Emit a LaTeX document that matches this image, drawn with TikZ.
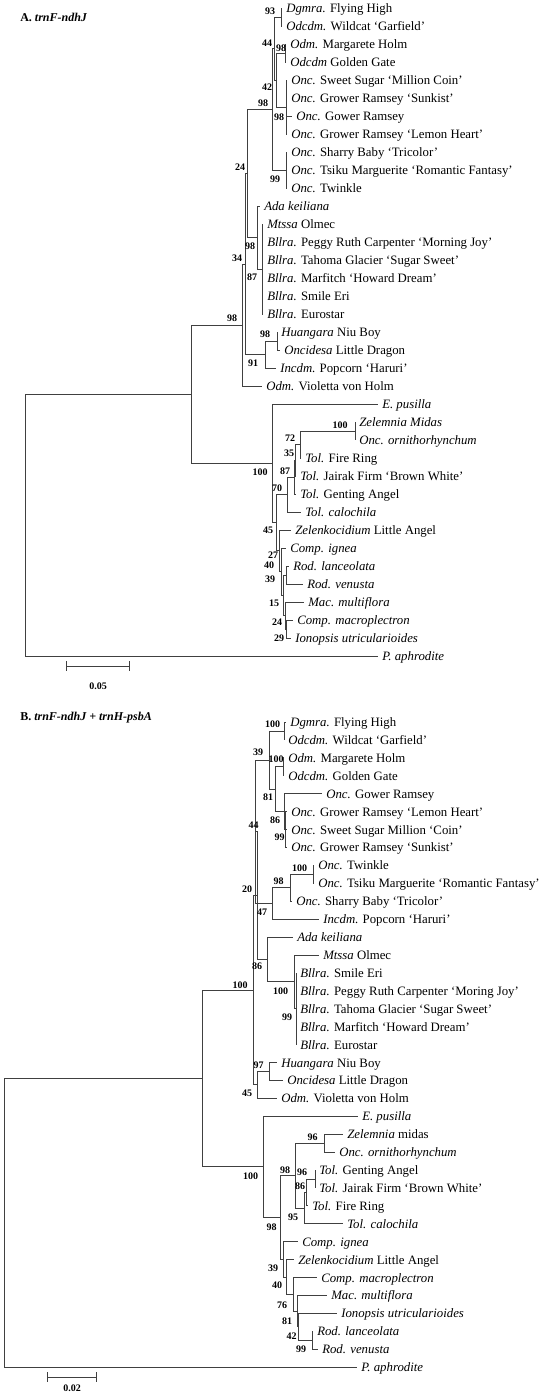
\documentclass[tikz,border=0pt]{standalone}
\usepackage{fontspec}
\setmainfont{Liberation Serif}
\usetikzlibrary{positioning,calc}

\tikzstyle{leafname} = [
    anchor=base west,
    inner sep=0pt,
    font=\fontsize{9.6}{11}\selectfont
]
\tikzstyle{treetitle} = [
    anchor=base west,
    inner sep=0pt,
    font=\bfseries\fontsize{9}{11}\selectfont
]

% one terminal taxon: tip coordinate and its name
\newcommand{\leaf}[4]{%
    \coordinate (#1) at (#2,#3);
    \node[leafname] (#1-name) at ($(#1)+(4,4.5)$) {#4};
}

\begin{document}
\begin{tikzpicture}[
        x=0.75pt, y=-0.75pt,
        branch/.style={draw=black!75, line width=0.7pt},
        boot/.style={inner sep=0pt, font=\bfseries\fontsize{7.5}{8}\selectfont},
        scalebar/.style={draw=black!75, line width=0.7pt, |-|}
    ]
    \fill[white] (0,0) rectangle (543,1394);

    % ---------------- A. trnF-ndhJ ----------------
    \node[treetitle] (titleA) at (20,22) {A. \textit{trnF-ndhJ}};

    \leaf{aL1}{282}{8}{\textit{Dgmra.} Flying High}
    \leaf{aL2}{282}{26}{\textit{Odcdm.} Wildcat ‘Garfield’}
    \leaf{aL3}{286}{44}{\textit{Odm.} Margarete Holm}
    \leaf{aL4}{286}{62}{\textit{Odcdm} Golden Gate}
    \leaf{aL5}{287}{80}{\textit{Onc.} Sweet Sugar ‘Million Coin’}
    \leaf{aL6}{287}{98}{\textit{Onc.} Grower Ramsey ‘Sunkist’}
    \leaf{aL7}{292}{116}{\textit{Onc.} Gower Ramsey}
    \leaf{aL8}{287}{134}{\textit{Onc.} Grower Ramsey ‘Lemon Heart’}
    \leaf{aL9}{287}{152}{\textit{Onc.} Sharry Baby ‘Tricolor’}
    \leaf{aL10}{287}{170}{\textit{Onc.} Tsiku Marguerite ‘Romantic Fantasy’}
    \leaf{aL11}{287}{188}{\textit{Onc.} Twinkle}
    \leaf{aL12}{260}{206}{\textit{Ada keiliana}}
    \leaf{aL13}{263}{224}{\textit{Mtssa} Olmec}
    \leaf{aL14}{263}{242}{\textit{Bllra.} Peggy Ruth Carpenter ‘Morning Joy’}
    \leaf{aL15}{263}{260}{\textit{Bllra.} Tahoma Glacier ‘Sugar Sweet’}
    \leaf{aL16}{263}{278}{\textit{Bllra.} Marfitch ‘Howard Dream’}
    \leaf{aL17}{263}{296}{\textit{Bllra.} Smile Eri}
    \leaf{aL18}{263}{314}{\textit{Bllra.} Eurostar}
    \leaf{aL19}{277}{332}{\textit{Huangara} Niu Boy}
    \leaf{aL20}{280}{350}{\textit{Oncidesa} Little Dragon}
    \leaf{aL21}{276}{368}{\textit{Incdm.} Popcorn ‘Haruri’}
    \leaf{aL22}{262}{386}{\textit{Odm.} Violetta von Holm}
    \leaf{aL23}{378}{404}{\textit{E. pusilla}}
    \leaf{aL24}{355}{422}{\textit{Zelemnia Midas}}
    \leaf{aL25}{355}{440}{\textit{Onc. ornithorhynchum}}
    \leaf{aL26}{301}{458}{\textit{Tol.} Fire Ring}
    \leaf{aL27}{296}{476}{\textit{Tol.} Jairak Firm ‘Brown White’}
    \leaf{aL28}{296}{494}{\textit{Tol.} Genting Angel}
    \leaf{aL29}{301}{512}{\textit{Tol. calochila}}
    \leaf{aL30}{291}{530}{\textit{Zelenkocidium} Little Angel}
    \leaf{aL31}{286}{548}{\textit{Comp. ignea}}
    \leaf{aL32}{289}{566}{\textit{Rod. lanceolata}}
    \leaf{aL33}{303}{584}{\textit{Rod. venusta}}
    \leaf{aL34}{304}{602}{\textit{Mac. multiflora}}
    \leaf{aL35}{293}{620}{\textit{Comp. macroplectron}}
    \leaf{aL36}{291}{638}{\textit{Ionopsis utricularioides}}
    \leaf{aL37}{378}{656}{\textit{P. aphrodite}}

    \coordinate (a93) at (281,17);
    \coordinate (a98a) at (285,53);
    \coordinate (a98b) at (286,107);
    \coordinate (a42) at (276,80);
    \coordinate (a44) at (274,48.5);
    \coordinate (a99) at (286,170);
    \coordinate (a98) at (272,109.3);
    \coordinate (a87) at (262,269);
    \coordinate (a98d) at (257,237.5);
    \coordinate (a24) at (247,173.4);
    \coordinate (a98h) at (277,341);
    \coordinate (a91) at (265,354.5);
    \coordinate (a34) at (245,264);
    \coordinate (aN2) at (242,325);
    \coordinate (a100z) at (355,431);
    \coordinate (a72) at (300,444.5);
    \coordinate (a35) at (295,460.3);
    \coordinate (a87t) at (294,477.1);
    \coordinate (a70) at (287,494.6);
    \coordinate (a29) at (286,629);
    \coordinate (a24t) at (285,615.5);
    \coordinate (a39) at (286,575);
    \coordinate (a15) at (283,595.3);
    \coordinate (a40) at (281,571.6);
    \coordinate (a27) at (279,550.8);
    \coordinate (a45) at (276,522.7);
    \coordinate (aOut) at (272,463.4);
    \coordinate (aN1) at (191,394.2);
    \coordinate (aR) at (25,394.2);

    \draw[branch] (aR) |- (aN1) (aR) |- (aL37);
    \draw[branch] (aN1) |- (aN2) (aN1) |- (aOut);
    \draw[branch] (aN2) |- (a34) (aN2) |- (aL22);
    \draw[branch] (a34) |- (a24) (a34) |- (a91);
    \draw[branch] (a24) |- (a98) (a24) |- (a98d);
    \draw[branch] (a98) |- (a44) (a98) |- (a99);
    \draw[branch] (a44) |- (a93) (a44) |- (a42);
    \draw[branch] (a93) |- (aL1) (a93) |- (aL2);
    \draw[branch] (a42) |- (a98a) (a42) |- (a98b);
    \draw[branch] (a98a) |- (aL3) (a98a) |- (aL4);
    \draw[branch] (a98b) |- (aL5) (a98b) |- (aL6) (a98b) |- (aL7) (a98b) |- (aL8);
    \draw[branch] (a99) |- (aL9) (a99) |- (aL10) (a99) |- (aL11);
    \draw[branch] (a98d) |- (aL12) (a98d) |- (a87);
    \draw[branch] (a87) |- (aL13) (a87) |- (aL14) (a87) |- (aL15)
                  (a87) |- (aL16) (a87) |- (aL17) (a87) |- (aL18);
    \draw[branch] (a91) |- (a98h) (a91) |- (aL21);
    \draw[branch] (a98h) |- (aL19) (a98h) |- (aL20);
    \draw[branch] (aOut) |- (aL23) (aOut) |- (a45);
    \draw[branch] (a45) |- (a70) (a45) |- (a27);
    \draw[branch] (a70) |- (a87t) (a70) |- (aL29);
    \draw[branch] (a87t) |- (a35) (a87t) |- (aL28);
    \draw[branch] (a35) |- (a72) (a35) |- (aL27);
    \draw[branch] (a72) |- (a100z) (a72) |- (aL26);
    \draw[branch] (a100z) |- (aL24) (a100z) |- (aL25);
    \draw[branch] (a27) |- (aL30) (a27) |- (a40);
    \draw[branch] (a40) |- (aL31) (a40) |- (a15);
    \draw[branch] (a15) |- (a39) (a15) |- (a24t);
    \draw[branch] (a39) |- (aL32) (a39) |- (aL33);
    \draw[branch] (a24t) |- (aL34) (a24t) |- (a29);
    \draw[branch] (a29) |- (aL35) (a29) |- (aL36);

    \node[boot] (ab93) at (270,11) {93};
    \node[boot] (ab44) at (267,43) {44};
    \node[boot] (ab98a) at (281,48) {98};
    \node[boot] (ab42) at (267,87) {42};
    \node[boot] (ab98) at (263,103) {98};
    \node[boot] (ab98b) at (279,117) {98};
    \node[boot] (ab24) at (240,167) {24};
    \node[boot] (ab99) at (275,179) {99};
    \node[boot] (ab98d) at (250,246) {98};
    \node[boot] (ab34) at (237,258) {34};
    \node[boot] (ab87) at (252,277) {87};
    \node[boot] (abN2) at (232,318) {98};
    \node[boot] (ab98h) at (265,334) {98};
    \node[boot] (ab91) at (253,363) {91};
    \node[boot] (ab100z) at (340,425) {100};
    \node[boot] (ab72) at (290,438) {72};
    \node[boot] (ab35) at (289,453) {35};
    \node[boot] (ab87t) at (285,471) {87};
    \node[boot] (abOut) at (260,472) {100};
    \node[boot] (ab70) at (277,488) {70};
    \node[boot] (ab45) at (268,530) {45};
    \node[boot] (ab27) at (273,555) {27};
    \node[boot] (ab40) at (269,565) {40};
    \node[boot] (ab39) at (270,579) {39};
    \node[boot] (ab15) at (274,603) {15};
    \node[boot] (ab24t) at (277,622) {24};
    \node[boot] (ab29) at (279,638) {29};

    \coordinate (asb1) at (66,666);
    \coordinate (asb2) at (130,666);
    \draw[scalebar] (asb1) -- (asb2);
    \node[boot] (asbl) at (98,686) {0.05};

    % ---------------- B. trnF-ndhJ + trnH-psbA ----------------
    \node[treetitle] (titleB) at (20,720.5) {B. \textit{trnF-ndhJ + trnH-psbA}};

    \leaf{bL1}{286}{722}{\textit{Dgmra.} Flying High}
    \leaf{bL2}{284}{739.9}{\textit{Odcdm.} Wildcat ‘Garfield’}
    \leaf{bL3}{284}{757.8}{\textit{Odm.} Margarete Holm}
    \leaf{bL4}{284}{775.8}{\textit{Odcdm.} Golden Gate}
    \leaf{bL5}{322}{793.7}{\textit{Onc.} Gower Ramsey}
    \leaf{bL6}{287}{811.6}{\textit{Onc.} Grower Ramsey ‘Lemon Heart’}
    \leaf{bL7}{287}{829.5}{\textit{Onc.} Sweet Sugar Million ‘Coin’}
    \leaf{bL8}{287}{847.4}{\textit{Onc.} Grower Ramsey ‘Sunkist’}
    \leaf{bL9}{314}{865.4}{\textit{Onc.} Twinkle}
    \leaf{bL10}{314}{883.3}{\textit{Onc.} Tsiku Marguerite ‘Romantic Fantasy’}
    \leaf{bL11}{292}{901.2}{\textit{Onc.} Sharry Baby ‘Tricolor’}
    \leaf{bL12}{319}{919.1}{\textit{Incdm.} Popcorn ‘Haruri’}
    \leaf{bL13}{293}{937}{\textit{Ada keiliana}}
    \leaf{bL14}{319}{955}{\textit{Mtssa} Olmec}
    \leaf{bL15}{296}{972.9}{\textit{Bllra.} Smile Eri}
    \leaf{bL16}{296}{990.8}{\textit{Bllra.} Peggy Ruth Carpenter ‘Moring Joy’}
    \leaf{bL17}{296}{1008.7}{\textit{Bllra.} Tahoma Glacier ‘Sugar Sweet’}
    \leaf{bL18}{296}{1026.6}{\textit{Bllra.} Marfitch ‘Howard Dream’}
    \leaf{bL19}{296}{1044.6}{\textit{Bllra.} Eurostar}
    \leaf{bL20}{277}{1062.5}{\textit{Huangara} Niu Boy}
    \leaf{bL21}{283}{1080.4}{\textit{Oncidesa} Little Dragon}
    \leaf{bL22}{277}{1098.3}{\textit{Odm.} Violetta von Holm}
    \leaf{bL23}{358}{1116.2}{\textit{E. pusilla}}
    \leaf{bL24}{343}{1134.2}{\textit{Zelemnia} midas}
    \leaf{bL25}{335}{1152.1}{\textit{Onc. ornithorhynchum}}
    \leaf{bL26}{315}{1170}{\textit{Tol.} Genting Angel}
    \leaf{bL27}{315}{1187.9}{\textit{Tol.} Jairak Firm ‘Brown White’}
    \leaf{bL28}{308}{1205.8}{\textit{Tol.} Fire Ring}
    \leaf{bL29}{343}{1223.8}{\textit{Tol. calochila}}
    \leaf{bL30}{298}{1241.7}{\textit{Comp. ignea}}
    \leaf{bL31}{294}{1259.6}{\textit{Zelenkocidium} Little Angel}
    \leaf{bL32}{317}{1277.5}{\textit{Comp. macroplectron}}
    \leaf{bL33}{327}{1295.4}{\textit{Mac. multiflora}}
    \leaf{bL34}{337}{1313.4}{\textit{Ionopsis utricularioides}}
    \leaf{bL35}{313}{1331.3}{\textit{Rod. lanceolata}}
    \leaf{bL36}{318}{1349.2}{\textit{Rod. venusta}}
    \leaf{bL37}{357}{1367.1}{\textit{P. aphrodite}}

    \coordinate (b100dg) at (284,731);
    \coordinate (b100mg) at (283,766.8);
    \coordinate (b99) at (285,829.5);
    \coordinate (b86) at (284,811.6);
    \coordinate (b81) at (275,789.2);
    \coordinate (b39) at (269,760.1);
    \coordinate (b100tw) at (313,874.4);
    \coordinate (b98) at (290,887.8);
    \coordinate (b47) at (272,903.4);
    \coordinate (b44) at (255,831.8);
    \coordinate (b99bll) at (296,1008.7);
    \coordinate (b100bll) at (294,981.9);
    \coordinate (b86lo) at (267,959.4);
    \coordinate (b20) at (257,895.6);
    \coordinate (b97) at (269,1071.4);
    \coordinate (b45) at (257,1084.9);
    \coordinate (bN2) at (253,990.2);
    \coordinate (bz96) at (324,1143.1);
    \coordinate (bt96) at (315,1179);
    \coordinate (bt86) at (306,1192.4);
    \coordinate (bt95) at (304,1208.1);
    \coordinate (bt98) at (295,1175.6);
    \coordinate (brod) at (312,1340.2);
    \coordinate (b42) at (298.5,1326.8);
    \coordinate (b81l) at (297,1311.1);
    \coordinate (b76) at (293,1294.3);
    \coordinate (b40l) at (286.5,1277);
    \coordinate (b39l) at (283,1259.3);
    \coordinate (b98lo) at (280,1217.4);
    \coordinate (bOut) at (263,1166.8);
    \coordinate (bN1) at (202,1078.5);
    \coordinate (bR) at (4,1078.5);

    \draw[branch] (bR) |- (bN1) (bR) |- (bL37);
    \draw[branch] (bN1) |- (bN2) (bN1) |- (bOut);
    \draw[branch] (bN2) |- (b20) (bN2) |- (b45);
    \draw[branch] (b20) |- (b44) (b20) |- (b86lo);
    \draw[branch] (b44) |- (b39) (b44) |- (b47);
    \draw[branch] (b39) |- (b100dg) (b39) |- (b81);
    \draw[branch] (b100dg) |- (bL1) (b100dg) |- (bL2);
    \draw[branch] (b81) |- (b100mg) (b81) |- (b86);
    \draw[branch] (b100mg) |- (bL3) (b100mg) |- (bL4);
    \draw[branch] (b86) |- (bL5) (b86) |- (b99);
    \draw[branch] (b99) |- (bL6) (b99) |- (bL7) (b99) |- (bL8);
    \draw[branch] (b47) |- (b98) (b47) |- (bL12);
    \draw[branch] (b98) |- (b100tw) (b98) |- (bL11);
    \draw[branch] (b100tw) |- (bL9) (b100tw) |- (bL10);
    \draw[branch] (b86lo) |- (bL13) (b86lo) |- (b100bll);
    \draw[branch] (b100bll) |- (bL14) (b100bll) |- (b99bll);
    \draw[branch] (b99bll) |- (bL15) (b99bll) |- (bL16) (b99bll) |- (bL17)
                  (b99bll) |- (bL18) (b99bll) |- (bL19);
    \draw[branch] (b45) |- (b97) (b45) |- (bL22);
    \draw[branch] (b97) |- (bL20) (b97) |- (bL21);
    \draw[branch] (bOut) |- (bL23) (bOut) |- (b98lo);
    \draw[branch] (b98lo) |- (bt98) (b98lo) |- (b39l);
    \draw[branch] (bt98) |- (bz96) (bt98) |- (bt95);
    \draw[branch] (bz96) |- (bL24) (bz96) |- (bL25);
    \draw[branch] (bt95) |- (bt86) (bt95) |- (bL29);
    \draw[branch] (bt86) |- (bt96) (bt86) |- (bL28);
    \draw[branch] (bt96) |- (bL26) (bt96) |- (bL27);
    \draw[branch] (b39l) |- (bL30) (b39l) |- (b40l);
    \draw[branch] (b40l) |- (bL31) (b40l) |- (b76);
    \draw[branch] (b76) |- (bL32) (b76) |- (b81l);
    \draw[branch] (b81l) |- (bL33) (b81l) |- (b42);
    \draw[branch] (b42) |- (bL34) (b42) |- (brod);
    \draw[branch] (brod) |- (bL35) (brod) |- (bL36);

    \node[boot] (bb100dg) at (272.5,724) {100};
    \node[boot] (bb39) at (258,752) {39};
    \node[boot] (bb100mg) at (276,759) {100};
    \node[boot] (bb81) at (268,797) {81};
    \node[boot] (bb86) at (275,820) {86};
    \node[boot] (bb44) at (253.5,825) {44};
    \node[boot] (bb99) at (279.5,837) {99};
    \node[boot] (bb100tw) at (299.5,868) {100};
    \node[boot] (bb98) at (278.5,881) {98};
    \node[boot] (bb20) at (247,889) {20};
    \node[boot] (bb47) at (262,912) {47};
    \node[boot] (bb86lo) at (257,966) {86};
    \node[boot] (bbN2) at (240,985) {100};
    \node[boot] (bb100bll) at (280.5,991) {100};
    \node[boot] (bb99bll) at (287,1017) {99};
    \node[boot] (bb97) at (258.5,1065) {97};
    \node[boot] (bb45) at (247,1093) {45};
    \node[boot] (bbz96) at (312.5,1137) {96};
    \node[boot] (bbt98) at (285,1170) {98};
    \node[boot] (bbt96) at (302,1172) {96};
    \node[boot] (bbOut) at (250.5,1176) {100};
    \node[boot] (bbt86) at (300,1186) {86};
    \node[boot] (bbt95) at (293,1217) {95};
    \node[boot] (bb98lo) at (271.5,1227) {98};
    \node[boot] (bb39l) at (273,1268) {39};
    \node[boot] (bb40l) at (277,1285) {40};
    \node[boot] (bb76) at (282,1305) {76};
    \node[boot] (bb81l) at (287,1321) {81};
    \node[boot] (bb42) at (291.5,1336) {42};
    \node[boot] (bb99r) at (301,1349) {99};

    \coordinate (bsb1) at (47,1377);
    \coordinate (bsb2) at (97,1377);
    \draw[scalebar] (bsb1) -- (bsb2);
    \node[boot] (bsbl) at (72,1388) {0.02};
\end{tikzpicture}
\end{document}
